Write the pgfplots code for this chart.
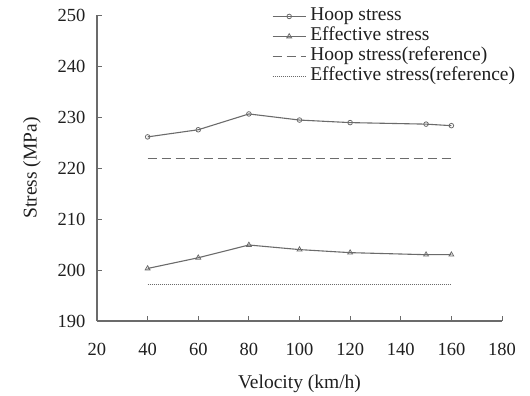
\documentclass[border=0pt]{standalone}
\usepackage{pgfplots}
\pgfplotsset{compat=1.18}
\usepackage{fontspec}
\setmainfont{Liberation Serif}
\definecolor{ln}{gray}{0.42}
\definecolor{tx}{gray}{0.12}
\begin{document}
\begin{tikzpicture}
\begin{axis}[
  name=ax,
  scale only axis,
  width=405pt, height=306pt,
  xmin=20, xmax=180, ymin=190, ymax=250,
  xtick={20,40,...,180}, ytick={190,200,...,250},
  axis x line*=bottom, axis y line*=left,
  axis line style={ln, line width=1.1pt, -},
  tick style={ln, line width=0.9pt},
  major tick length=5pt,
  tick align=inside,
  /pgf/number format/assume math mode=true,
  ticklabel style={font=\fontsize{18.5}{20}\selectfont, text=tx},
  xticklabel style={yshift=-19pt},
  yticklabel style={xshift=-8pt},
  xlabel={Velocity (km/h)}, ylabel={Stress (MPa)},
  label style={font=\fontsize{19.5}{22}\selectfont, text=tx},
  xlabel style={yshift=-12pt},
  ylabel style={yshift=10pt},
  legend style={draw=none, fill=none, at={(0.432,1.022)}, anchor=north west,
    font=\fontsize{19.5}{22}\selectfont, text=tx, inner sep=0pt,
    row sep=4pt, nodes={inner sep=0pt, text height=12pt, text depth=4pt}, cells={anchor=west}},
  legend image code/.code={\draw[#1] (0pt,0pt) -- (33pt,0pt); \draw[#1, only marks] plot coordinates {(16.5pt,0pt)}; \path (37pt,0pt);},
]
\addplot[ln, line width=1.1pt, mark=o, mark size=2.3pt, mark options={fill=white, line width=0.8pt}] coordinates {
(40,226.1) (60,227.5) (80,230.6) (100,229.4) (120,228.9) (150,228.6) (160,228.3)};
\addlegendentry{Hoop stress}
\addplot[ln, line width=1.1pt, mark=triangle, mark size=2.8pt, mark options={fill=white, line width=0.8pt}] coordinates {
(40,200.3) (60,202.4) (80,204.9) (100,204.0) (120,203.4) (150,203.0) (160,203.0)};
\addlegendentry{Effective stress}
\addplot[ln, line width=1.1pt, dash pattern=on 9pt off 5pt] coordinates {(40,221.9) (160,221.9)};
\addlegendentry{Hoop stress(reference)}
\addplot[ln, line width=0.9pt, dash pattern=on 1pt off 1pt] coordinates {(40,197.2) (160,197.2)};
\addlegendentry{Effective stress(reference)}
\end{axis}
\path[use as bounding box] ([shift={(-97pt,-74pt)}]ax.south west) rectangle ([shift={(28pt,15pt)}]ax.north east);
\end{tikzpicture}
\end{document}
